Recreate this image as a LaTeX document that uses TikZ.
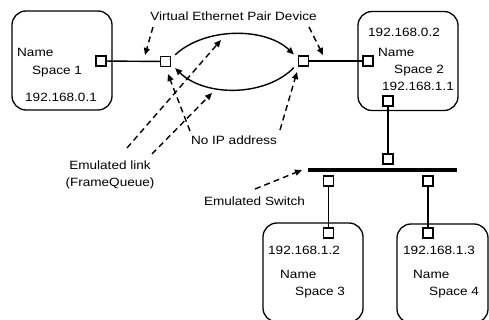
\documentclass[tikz,border=0pt]{standalone}
\usepackage{fontspec}
\setmainfont{Liberation Sans}[FakeStretch=1.13]
\usetikzlibrary{arrows.meta, positioning}

\begin{document}
\begin{tikzpicture}[x=1pt, y=-1pt,
    nsbox/.style={draw, line width=1.3pt, rounded corners=14pt, minimum height=99pt},
    port/.style={draw, fill=white, line width=1.3pt, minimum size=10pt, inner sep=0pt},
    wire/.style={line width=1.4pt},
    hint/.style={line width=1.4pt, dash pattern=on 6pt off 4pt, -{Triangle[length=7pt,width=6pt]}},
    txt/.style={font=\fontsize{12}{17.5}\selectfont, inner sep=0pt},
    lbl/.style={txt, anchor=west, text height=8.6pt, text depth=0pt}
]
\useasboundingbox (0,0) rectangle (489,320);
\clip (0,0) rectangle (489,320);

%% name spaces
\node[nsbox, minimum width=100pt] (N1) at (62,60.5) {};
\node[nsbox, minimum width=100pt] (N2) at (408,61) {};
\node[nsbox, minimum width=100pt] (N3) at (313,272.5) {};
\node[nsbox, minimum width=91pt]  (N4) at (442.5,273.5) {};

\node[lbl] (n1a) at (17,52) {Name};
\node[lbl] (n1b) at (32,70) {Space 1};
\node[lbl] (n1c) at (25,97) {192.168.0.1};
\node[lbl] (n2a) at (368,32) {192.168.0.2};
\node[lbl] (n2b) at (378,52) {Name};
\node[lbl] (n2c) at (394,69) {Space 2};
\node[lbl] (n2d) at (382,86) {192.168.1.1};
\node[lbl] (n3a) at (268,250) {192.168.1.2};
\node[lbl] (n3b) at (280,274) {Name};
\node[lbl] (n3c) at (295,291) {Space 3};
\node[lbl] (n4a) at (403,250) {192.168.1.3};
\node[lbl] (n4b) at (413,274) {Name};
\node[lbl] (n4c) at (429,291) {Space 4};

%% switch bar
\node[fill=black, inner sep=0pt, minimum width=149pt, minimum height=3.8pt] (SW) at (382.5,170) {};

%% ports
\node[port] (P1)  at (101,61) {};
\node[port] (E1)  at (165.5,61.5) {};
\node[port] (E2)  at (303.5,61) {};
\node[port] (P2)  at (368,61) {};
\node[port] (P2b) at (388,101) {};
\node[port] (S0)  at (388,159) {};
\node[port] (S1)  at (328.5,181) {};
\node[port] (S2)  at (428,181) {};
\node[port] (P3)  at (328.5,233) {};
\node[port] (P4)  at (428,233) {};

%% links
\draw[wire] (P1) -- (E1);
\draw[wire] (E2) -- (P2);
\draw[wire] (P2b) -- (S0);
\draw[wire] (S1) -- (P3);
\draw[wire] (S2) -- (P4);

% veth pair, one queue each way
\draw[wire, -{Triangle[length=7pt,width=6pt]}] ([xshift=4pt,yshift=1pt]E1.north east)
  .. controls (205,27) and (265,27) .. ([xshift=-4pt,yshift=1pt]E2.north west);
\draw[wire, -{Triangle[length=7pt,width=6pt]}] ([xshift=-4pt,yshift=-1pt]E2.south west)
  .. controls (265,97) and (205,97) .. ([xshift=4pt,yshift=-1pt]E1.south east);

%% labels
\node[txt] (veth) at (233.5,16) {Virtual Ethernet Pair Device};
\node[txt, align=center] (elink) at (110,175) {Emulated link\\(FrameQueue)};
\node[txt] (noip) at (234,140) {No IP address};
\node[txt] (esw) at (254.5,201) {Emulated Switch};

%% pointers
\coordinate (a1) at (153,27);   \coordinate (t1) at (145,55);
\coordinate (a2) at (309,27);   \coordinate (t2) at (323,55);
\coordinate (a3) at (127,148);  \coordinate (t3) at (221,40);
\coordinate (a4) at (152,154);  \coordinate (t4) at (212,93);
\coordinate (a5) at (190,131);  \coordinate (t5) at (168,74);
\coordinate (a6) at (280,130);  \coordinate (t6) at (297,72);
\coordinate (a7) at (255,189);  \coordinate (t7) at (302,170);
\foreach \s/\t in {a1/t1,a2/t2,a3/t3,a4/t4,a5/t5,a6/t6,a7/t7}{
  \draw[hint] (\s) -- (\t);
}
\end{tikzpicture}
\end{document}
